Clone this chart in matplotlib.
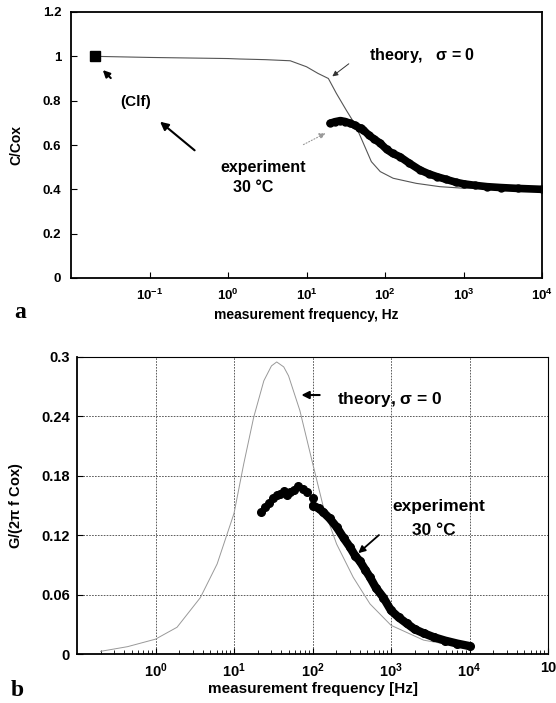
import matplotlib
matplotlib.use('Agg')
import matplotlib.pyplot as plt
from matplotlib.ticker import FixedLocator, LogLocator, NullFormatter

plt.rcParams['font.family'] = ['Liberation Sans', 'DejaVu Sans']
plt.rcParams['font.weight'] = 'bold'
plt.rcParams['mathtext.fontset'] = 'custom'
plt.rcParams['mathtext.rm'] = 'Liberation Sans:bold'
plt.rcParams['mathtext.bf'] = 'Liberation Sans:bold'
plt.rcParams['mathtext.it'] = 'Liberation Sans:bold'

# panel a: C/Cox vs frequency
theory_a_f = [0.02, 0.1, 1, 1.4, 3, 6.2, 10, 14, 19, 24, 32, 42, 53, 67, 87, 127, 250, 500, 1000, 10000]
theory_a_c = [1.0, 0.995, 0.99, 0.988, 0.985, 0.98, 0.953, 0.923, 0.90, 0.833, 0.758, 0.69, 0.608,
              0.525, 0.48, 0.45, 0.427, 0.412, 0.405, 0.40]

exp_a_f = [20, 23, 27, 31, 36, 42, 47, 50, 53, 62, 72, 87, 105, 125, 155, 200, 280, 360, 460, 600, 800,
           1000, 1400, 2000, 3000, 5000, 10000]
exp_a_c = [0.698, 0.705, 0.71, 0.706, 0.698, 0.688, 0.678, 0.676, 0.668, 0.645, 0.628, 0.608, 0.58,
           0.562, 0.547, 0.52, 0.487, 0.47, 0.457, 0.445, 0.432, 0.425, 0.418, 0.412, 0.408, 0.404, 0.40]

clf_f = [0.02]
clf_c = [1.0]

# panel b: G/(2 pi f Cox) vs frequency
theory_b_f = [0.2, 0.44, 1, 1.88, 3.73, 6.1, 10, 13.3, 17.8, 24, 30, 35, 43, 49.5, 69, 98, 138, 203,
              330, 540, 1000, 2600, 10000]
theory_b_g = [0.0027, 0.0074, 0.015, 0.027, 0.057, 0.091, 0.142, 0.192, 0.239, 0.276, 0.291, 0.295,
              0.29, 0.281, 0.246, 0.196, 0.148, 0.111, 0.0775, 0.0506, 0.029, 0.014, 0.0057]

exp_b1_f = [22.2, 25, 27.6, 31, 35, 39, 43, 47, 52, 58, 66, 75, 85, 100]
exp_b1_g = [0.143, 0.148, 0.153, 0.158, 0.161, 0.162, 0.165, 0.161, 0.164, 0.166, 0.170, 0.167, 0.1635, 0.158]

exp_b2_f = [102, 120, 138, 165, 204, 250, 300, 350, 400, 470, 540, 640, 800, 1000, 1250, 1580,
            2000, 2600, 3500, 4900, 7000, 10000]
exp_b2_g = [0.150, 0.147, 0.143, 0.137, 0.128, 0.117, 0.108, 0.099, 0.094, 0.085, 0.0775, 0.067,
            0.057, 0.044, 0.037, 0.031, 0.025, 0.021, 0.017, 0.0135, 0.0105, 0.008]

fig = plt.figure(figsize=(5.56, 7.03), dpi=100)

# ---------------- panel a
ax1 = fig.add_axes([71/556, 1-278/703, 471/556, 266/703])
ax1.plot(theory_a_f, theory_a_c, color='#555555', lw=0.8)
ax1.plot(exp_a_f, exp_a_c, color='black', lw=5.5, marker='o', ms=5, solid_capstyle='round')
ax1.plot(clf_f, clf_c, 's', color='black', ms=6.5)
ax1.set_xscale('log')
ax1.set_xlim(0.01, 1e4)
ax1.set_ylim(0, 1.2)
ax1.xaxis.set_major_locator(FixedLocator([0.1, 1, 10, 100, 1000, 10000]))
ax1.set_xticklabels([r'$10^{-1}$', r'$10^{0}$', r'$10^{1}$', r'$10^{2}$', r'$10^{3}$', r'$10^{4}$'])
ax1.xaxis.set_minor_locator(FixedLocator([]))
ax1.set_yticks([0, 0.2, 0.4, 0.6, 0.8, 1.0, 1.2])
ax1.set_yticklabels(['0', '0.2', '0.4', '0.6', '0.8', '1', '1.2'])
ax1.tick_params(direction='in', length=4, width=0.8, labelsize=9.5, pad=7)
for s in ax1.spines.values():
    s.set_linewidth(1.3)
ax1.set_xlabel('measurement frequency, Hz', fontsize=10, fontweight='bold', labelpad=4)
ax1.set_ylabel('C/Cox', fontsize=10, fontweight='bold', labelpad=14)

ax1.text(63, 1.006, r'theory,   $\sigma$ = 0', fontsize=11.5, fontweight='bold', va='center', ha='left')
ax1.annotate('', xy=(20, 0.902), xytext=(36.9, 0.974),
             arrowprops=dict(arrowstyle='-|>', color='#333333', lw=0.7, mutation_scale=8))
ax1.text(0.067, 0.794, '(Clf)', fontsize=11, fontweight='bold', ha='center', va='center')
ax1.annotate('', xy=(0.128, 0.713), xytext=(0.40, 0.568),
             arrowprops=dict(arrowstyle='-|>', color='black', lw=1.5, mutation_scale=12))
ax1.annotate('', xy=(0.024, 0.947), xytext=(0.034, 0.893),
             arrowprops=dict(arrowstyle='-|>', color='black', lw=1.5, mutation_scale=10))
ax1.text(2.8, 0.50, 'experiment', fontsize=11.5, fontweight='bold', ha='center', va='center')
ax1.text(2.08, 0.41, '30 °C', fontsize=11.5, fontweight='bold', ha='center', va='center')
ax1.annotate('', xy=(18.8, 0.659), xytext=(8.5, 0.596),
             arrowprops=dict(arrowstyle='-|>', color='#999999', lw=0.8, ls=':', mutation_scale=9))

fig.text(14/556, 1-313/703, 'a', fontsize=17, fontweight='bold', family='Liberation Serif',
         ha='left', va='center')

# ---------------- panel b
ax2 = fig.add_axes([77/556, 1-654/703, 471/556, 297/703])
ax2.plot(theory_b_f, theory_b_g, color='#999999', lw=0.7)
ax2.plot(exp_b1_f, exp_b1_g, 'o', color='black', ms=5.5)
ax2.plot(exp_b2_f, exp_b2_g, color='black', lw=6, marker='o', ms=5.5, solid_capstyle='round')
ax2.set_xscale('log')
ax2.set_xlim(0.1, 1e5)
ax2.set_ylim(0, 0.3)
ax2.xaxis.set_major_locator(FixedLocator([1, 10, 100, 1000, 10000, 100000]))
ax2.set_xticklabels([r'$10^{0}$', r'$10^{1}$', r'$10^{2}$', r'$10^{3}$', r'$10^{4}$', '10'])
ax2.xaxis.set_minor_locator(LogLocator(base=10, subs=range(2, 10)))
ax2.xaxis.set_minor_formatter(NullFormatter())
ax2.set_yticks([0, 0.06, 0.12, 0.18, 0.24, 0.3])
ax2.set_yticklabels(['0', '0.06', '0.12', '0.18', '0.24', '0.3'])
ax2.tick_params(which='major', direction='in', length=4, width=0.8, labelsize=10.5, pad=5)
ax2.tick_params(which='minor', direction='in', length=3, width=0.6)
ax2.grid(True, which='major', color='#444444', lw=0.6, ls=(0, (2, 1.5)))
ax2.spines['left'].set_linewidth(1.3)
ax2.spines['bottom'].set_linewidth(1.3)
ax2.spines['top'].set_linewidth(0.8)
ax2.spines['right'].set_linewidth(0.8)
ax2.set_xlabel('measurement frequency [Hz]', fontsize=11, fontweight='bold', labelpad=2)
ax2.set_ylabel(r'G/(2$\pi$ f Cox)', fontsize=10.5, fontweight='bold', labelpad=12)

ax2.text(207, 0.2566, r'theory, $\sigma$ = 0', fontsize=12.5, fontweight='bold', va='center', ha='left')
ax2.annotate('', xy=(66.5, 0.2616), xytext=(134, 0.2616),
             arrowprops=dict(arrowstyle='-|>', color='black', lw=1.5, mutation_scale=11))
ax2.text(4070, 0.1485, 'experiment', fontsize=12.5, fontweight='bold', ha='center', va='center')
ax2.text(3500, 0.125, '30 °C', fontsize=12.5, fontweight='bold', ha='center', va='center')
ax2.annotate('', xy=(360, 0.1), xytext=(746, 0.122),
             arrowprops=dict(arrowstyle='-|>', color='black', lw=1.3, mutation_scale=10))

fig.text(11/556, 1-691/703, 'b', fontsize=17, fontweight='bold', family='Liberation Serif',
         ha='left', va='center')

fig.savefig('out.png', dpi=100)
